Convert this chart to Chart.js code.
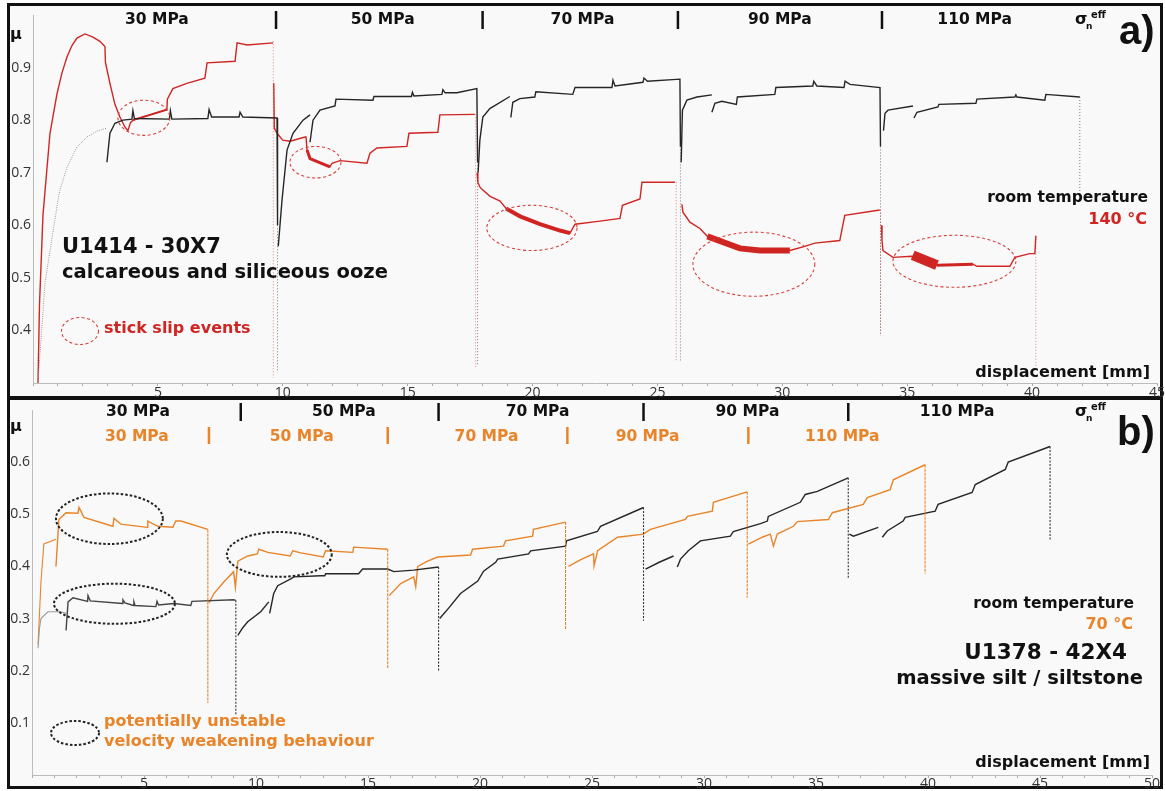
<!DOCTYPE html>
<html><head><meta charset="utf-8">
<script src="https://cdn.jsdelivr.net/npm/chart.js@4"></script>
<style>
body{margin:0;background:#fff;width:1165px;height:791px;position:relative;overflow:hidden}
.panel{position:absolute;left:7px;width:1156px;border:3px solid #111;background:#f9f9f9;box-sizing:border-box}
#pa{top:3px;height:396px}
#pb{top:397px;height:392px}
canvas{position:absolute;left:0}
</style></head>
<body>
<div class="panel" id="pa"></div>
<div class="panel" id="pb"></div>
<canvas id="ca" width="1165" height="398" style="top:0"></canvas>
<canvas id="cb" width="1165" height="393" style="top:398px"></canvas>
<script>
// ---------------- DATA: panel a) U1414-30X7 (displacement mm, friction μ) ----------------
const xTicksA = [5,10,15,20,25,30,35,40,45];
const yTicksA = [0.4,0.5,0.6,0.7,0.8,0.9];
// 140 °C (red)
const red30 = [[0.2,0.3],[0.26,0.45],[0.4,0.62],[0.68,0.775],[0.96,0.85],[1.16,0.89],[1.36,0.92],[1.56,0.942],[1.76,0.956],[2.08,0.964],[2.4,0.958],[2.68,0.95],[2.88,0.94],[2.9,0.91],[3.08,0.87],[3.28,0.83],[3.48,0.806],[3.68,0.787],[3.8,0.78],[3.9,0.795],[4.0,0.80],[4.68,0.81],[5.36,0.82],[5.38,0.84],[5.6,0.86],[6.16,0.87],[6.88,0.88],[6.97,0.909],[8.09,0.912],[8.17,0.947],[8.57,0.943],[9.61,0.947]];
const red50 = [[9.64,0.87],[9.66,0.785],[9.77,0.775],[10.0,0.762],[10.29,0.76],[10.89,0.768],[10.93,0.768],[10.97,0.743],[11.09,0.727],[11.89,0.711],[11.97,0.718],[12.29,0.723],[13.37,0.718],[13.49,0.737],[13.77,0.747],[14.97,0.75],[15.05,0.775],[16.21,0.777],[16.29,0.81],[17.69,0.811]];
const red70 = [[17.78,0.70],[17.81,0.682],[17.9,0.672],[18.01,0.667],[18.3,0.655],[18.7,0.646],[18.94,0.632],[19.5,0.617],[20.3,0.602],[21.1,0.59],[21.5,0.585],[21.7,0.602],[22.7,0.608],[23.5,0.613],[23.6,0.638],[24.3,0.65],[24.38,0.682],[25.7,0.682]];
const red90 = [[25.98,0.64],[26.02,0.625],[26.3,0.606],[26.7,0.594],[27.0,0.579],[28.3,0.556],[29.1,0.552],[30.3,0.552],[30.9,0.56],[31.3,0.566],[32.3,0.571],[32.5,0.619],[33.9,0.629]];
const red110 = [[33.97,0.60],[33.99,0.571],[34.03,0.552],[34.43,0.539],[35.19,0.541],[36.19,0.524],[37.63,0.526],[37.79,0.522],[39.11,0.522],[39.31,0.539],[39.91,0.546],[40.11,0.546],[40.15,0.58]];
const redStick = [
  [[4.0,0.80],[4.68,0.81],[5.36,0.82]],
  [[10.97,0.743],[11.09,0.727],[11.89,0.711]],
  [[18.94,0.632],[19.5,0.617],[20.3,0.602],[21.1,0.59],[21.5,0.585]],
  [[27.0,0.579],[28.3,0.556],[29.1,0.552],[30.3,0.552]],
  [[35.22,0.543],[36.19,0.524]],
  [[36.19,0.524],[37.63,0.526]]
];
const redStickW = [2,3,4,6,10,3];
// room temperature (black)
const gray30 = [[0.2,0.3],[0.48,0.49],[1.0,0.648],[1.08,0.667],[1.36,0.71],[1.76,0.749],[2.16,0.768],[2.56,0.779],[2.96,0.785]];
const black30 = [[2.96,0.72],[3.08,0.775],[3.28,0.794],[3.6,0.80],[3.96,0.802],[4.0,0.818],[4.06,0.803],[5.46,0.802],[5.5,0.818],[5.56,0.802],[7.0,0.803],[7.05,0.82],[7.15,0.806],[8.25,0.806],[8.29,0.815],[8.4,0.806],[9.77,0.804],[9.79,0.6]];
const black50a = [[9.82,0.56],[9.97,0.648],[10.17,0.743],[10.41,0.775],[10.81,0.80],[11.09,0.81]];
const black50b = [[11.09,0.758],[11.21,0.80],[11.49,0.819],[12.09,0.827],[12.13,0.84],[13.61,0.838],[13.65,0.845],[15.15,0.845],[15.19,0.853],[15.25,0.846],[16.37,0.849],[16.41,0.858],[16.5,0.852],[16.97,0.852],[17.77,0.86],[17.8,0.72]];
const black70a = [[17.82,0.70],[17.89,0.762],[18.01,0.806],[18.29,0.822],[19.09,0.845]];
const black70b = [[19.13,0.805],[19.21,0.834],[19.49,0.841],[20.09,0.844],[20.13,0.854],[21.61,0.849],[21.7,0.862],[23.18,0.862],[23.22,0.876],[23.3,0.865],[24.42,0.872],[24.46,0.88],[24.6,0.874],[25.9,0.878],[25.92,0.75]];
const black90a = [[25.95,0.72],[26.0,0.819],[26.18,0.838],[26.58,0.844],[27.18,0.848]];
const black90b = [[27.18,0.815],[27.3,0.832],[27.58,0.836],[28.16,0.83],[28.2,0.844],[29.7,0.849],[29.74,0.862],[31.22,0.865],[31.26,0.874],[31.38,0.865],[32.47,0.862],[32.51,0.874],[32.71,0.868],[33.91,0.862],[33.93,0.75]];
const black110a = [[34.05,0.78],[34.11,0.813],[34.23,0.819],[35.23,0.827]];
const black110b = [[35.27,0.804],[35.39,0.815],[36.23,0.825],[36.27,0.83],[37.75,0.832],[37.79,0.84],[39.31,0.844],[39.35,0.848],[39.39,0.844],[40.51,0.838],[40.55,0.849],[41.91,0.844]];
// unload spikes [x, top, bottom]
const spikeRedA = [[9.62,0.95,0.31],[17.72,0.811,0.33],[25.75,0.682,0.34],[33.93,0.629,0.394],[40.15,0.58,0.33]];
const spikeBlackA = [[9.79,0.60,0.32],[17.8,0.72,0.333],[25.92,0.75,0.34],[33.93,0.75,0.39],[41.91,0.844,0.66]];
// normal stress steps
const stepsA = [9.73,18.0,25.82,33.99];
const stressLabelsA = ['30 MPa','50 MPa','70 MPa','90 MPa','110 MPa'];
const stressPosA = [4.96,14.0,22.0,29.9,37.7];
const stickBoxesA = [[3.40,5.48,0.838,0.771],[10.29,12.33,0.750,0.690],[18.17,21.78,0.638,0.552],[26.42,31.3,0.587,0.465],[34.43,39.35,0.581,0.482]];

// ---------------- DATA: panel b) U1378-42X4 ----------------
const xTicksB = [5,10,15,20,25,30,35,40,45,50];
const yTicksB = [0.1,0.2,0.3,0.4,0.5,0.6];
// room temperature (black)
const grayB30 = [[0.27,0.243],[0.33,0.28],[0.4,0.30],[0.71,0.313],[1.29,0.313],[1.52,0.31]];
const blkB30 = [[1.52,0.277],[1.61,0.332],[1.83,0.34],[2.48,0.333],[2.5,0.344],[2.6,0.334],[4.04,0.329],[4.06,0.336],[4.15,0.33],[4.53,0.325],[4.55,0.332],[4.6,0.325],[5.53,0.323],[5.58,0.333],[5.65,0.326],[6.33,0.329],[7.09,0.325],[7.14,0.333],[9.0,0.336],[9.1,0.335]];
const blkB50a = [[9.19,0.268],[9.4,0.282],[9.63,0.294],[10.21,0.313],[10.57,0.332]];
const blkB50b = [[10.61,0.31],[10.79,0.348],[10.97,0.363],[11.55,0.376],[11.69,0.38],[12.89,0.382],[13.07,0.382],[13.11,0.386],[14.58,0.386],[14.76,0.395],[15.88,0.395],[16.15,0.39],[17.04,0.393],[18.15,0.399]];
const blkB70 = [[18.2,0.3],[18.6,0.32],[19.13,0.348],[19.9,0.372],[20.16,0.391],[20.7,0.408],[20.79,0.414],[22.17,0.424],[22.26,0.43],[23.82,0.439],[23.86,0.449],[25.24,0.467],[25.38,0.477],[27.3,0.513]];
const blkB90a = [[27.39,0.395],[28.0,0.408],[28.64,0.42]];
const blkB90b = [[28.81,0.399],[28.95,0.414],[29.3,0.43],[29.84,0.449],[31.18,0.458],[31.31,0.467],[32.52,0.482],[32.83,0.487],[32.87,0.496],[34.3,0.523],[34.52,0.538],[35.06,0.544],[36.44,0.57]];
const blkB110a = [[36.49,0.462],[36.67,0.458],[37.78,0.475]];
const blkB110b = [[37.96,0.456],[38.18,0.468],[38.89,0.487],[38.98,0.494],[40.32,0.506],[40.45,0.519],[41.97,0.542],[42.11,0.557],[43.45,0.586],[43.58,0.6],[45.45,0.63]];
// 70 °C (orange)
const orgB30a = [[0.27,0.25],[0.4,0.37],[0.53,0.443],[1.07,0.452]];
const orgB30b = [[1.07,0.40],[1.2,0.49],[1.52,0.503],[2.05,0.502],[2.1,0.513],[2.32,0.494],[3.61,0.477],[3.66,0.492],[3.97,0.481],[5.15,0.475],[5.17,0.487],[5.62,0.477],[6.29,0.475],[6.42,0.487],[6.65,0.487],[7.85,0.471]];
const orgB50 = [[7.9,0.33],[8.12,0.348],[8.6,0.372],[9.0,0.39],[9.08,0.36],[9.19,0.41],[9.63,0.42],[10.06,0.424],[10.12,0.433],[10.53,0.427],[11.53,0.42],[11.64,0.43],[12.0,0.426],[13.0,0.418],[13.11,0.43],[14.32,0.427],[14.36,0.437],[15.88,0.433]];
const orgB70 = [[15.95,0.344],[16.46,0.367],[17.04,0.38],[17.13,0.361],[17.22,0.4],[17.66,0.41],[18.11,0.418],[19.58,0.422],[19.67,0.433],[21.05,0.439],[21.14,0.449],[22.35,0.458],[22.39,0.471],[23.82,0.485]];
const orgB90 = [[23.95,0.40],[24.5,0.413],[25.07,0.424],[25.09,0.401],[25.25,0.43],[26.14,0.456],[27.3,0.462],[27.61,0.471],[29.17,0.49],[29.26,0.496],[30.37,0.506],[30.42,0.523],[31.93,0.543]];
const orgB110 = [[31.98,0.443],[32.6,0.456],[32.96,0.462],[33.1,0.439],[33.27,0.462],[33.99,0.477],[34.17,0.486],[35.55,0.49],[35.73,0.503],[37.11,0.519],[37.29,0.532],[38.31,0.547],[38.45,0.566],[39.87,0.595]];
const spikeBlkB = [[9.1,0.335,0.115],[18.15,0.399,0.2],[27.3,0.513,0.296],[36.44,0.57,0.376],[45.45,0.63,0.449]];
const spikeOrgB = [[7.85,0.471,0.138],[15.88,0.433,0.205],[23.82,0.485,0.28],[31.93,0.543,0.34],[39.87,0.595,0.386]];
const stepsBlkB = [9.32,18.15,27.3,36.44];
const stepsOrgB = [7.9,15.88,23.9,31.98];
const stressLabelsB = ['30 MPa','50 MPa','70 MPa','90 MPa','110 MPa'];
const stressPosBlkB = [4.73,13.92,22.57,31.94,41.3];
const stressPosOrgB = [4.68,12.04,20.29,27.48,36.17];
const vwBoxesB = [[1.07,5.84,0.54,0.443],[8.7,13.38,0.466,0.38],[0.98,6.38,0.367,0.29]];

// ---------------- helpers ----------------
const RED='#cf2523', ORG='#e8842a', BLK='#262626', GRY='#9a9a9a';
const BF="'DejaVu Sans', sans-serif";
function pts(a){return a.map(p=>({x:p[0],y:p[1]}));}
function line(a,color,w,dash){return {data:pts(a),borderColor:color,borderWidth:w||1.4,borderDash:dash||[],pointRadius:0,fill:false,tension:0};}
function spikes(list,color,w,dash){return list.map(s=>line([[s[0],s[1]],[s[0],s[2]]],color,w,dash));}

function text(ctx,t,x,y,size,color,align,family){
  ctx.font='bold '+size+'px '+(family||BF);
  ctx.fillStyle=color; ctx.textAlign=align||'left'; ctx.textBaseline='middle';
  ctx.fillText(t,x,y);
}
function ell(ctx,cx,cy,rx,ry,color,w,dash){
  ctx.save();ctx.beginPath();ctx.setLineDash(dash);ctx.lineWidth=w;ctx.strokeStyle=color;
  ctx.ellipse(cx,cy,rx,ry,0,0,Math.PI*2);ctx.stroke();ctx.restore();
}
function sigma(ctx,x,y){
  text(ctx,'σ',x,y,16,'#111');
  text(ctx,'n',x+11,y+7,9,'#111');
  text(ctx,'eff',x+16,y-5,10,'#111');
}
function boxEll(ctx,xs,ys,b,color,w,dash){
  const x1=xs.getPixelForValue(b[0]),x2=xs.getPixelForValue(b[1]),y1=ys.getPixelForValue(b[2]),y2=ys.getPixelForValue(b[3]);
  ell(ctx,(x1+x2)/2,(y1+y2)/2,Math.abs(x2-x1)/2,Math.abs(y2-y1)/2,color,w,dash);
}
function marker(ctx,x,y1,y2,color){ctx.save();ctx.strokeStyle=color;ctx.lineWidth=2.5;ctx.setLineDash([]);ctx.beginPath();ctx.moveTo(x,y1);ctx.lineTo(x,y2);ctx.stroke();ctx.restore();}

const drawA = (chart)=>{
  const ctx=chart.ctx,xs=chart.scales.x,ys=chart.scales.y;
  ctx.save();
  stickBoxesA.forEach(b=>boxEll(ctx,xs,ys,b,'#d9403c',1.1,[3,2.5]));
  stressLabelsA.forEach((t,i)=>text(ctx,t,xs.getPixelForValue(stressPosA[i]),20,15.5,'#111','center'));
  stepsA.forEach(v=>marker(ctx,xs.getPixelForValue(v),11,29,'#111'));
  sigma(ctx,1075,20);
  text(ctx,'a)',1119,33,40,'#111','left',"'Liberation Sans', Arial, sans-serif");
  text(ctx,'μ',16,35,16,'#111','center');
  text(ctx,'U1414 - 30X7',62,248,21,'#111');
  text(ctx,'calcareous and siliceous ooze',62,273,19.5,'#111');
  ell(ctx,80,331,18.5,13.5,'#d9403c',1.1,[3,2.5]);
  text(ctx,'stick slip events',104,329,16,RED);
  text(ctx,'room temperature',1148,198,15.5,'#111','right');
  text(ctx,'140 °C',1147,220,16,RED,'right');
  text(ctx,'displacement [mm]',1150,373,16,'#111','right');
  ctx.restore();
};
const drawB = (chart)=>{
  const ctx=chart.ctx,xs=chart.scales.x,ys=chart.scales.y;
  ctx.save();
  vwBoxesB.forEach(b=>boxEll(ctx,xs,ys,b,'#222',2,[2.5,2]));
  stressLabelsB.forEach((t,i)=>text(ctx,t,xs.getPixelForValue(stressPosBlkB[i]),14,15.5,'#111','center'));
  stressLabelsB.forEach((t,i)=>text(ctx,t,xs.getPixelForValue(stressPosOrgB[i]),39,15.5,ORG,'center'));
  stepsBlkB.forEach(v=>marker(ctx,xs.getPixelForValue(v),5,23,'#111'));
  stepsOrgB.forEach(v=>marker(ctx,xs.getPixelForValue(v),29,46,ORG));
  sigma(ctx,1075,14);
  text(ctx,'b)',1117,36,40,'#111','left',"'Liberation Sans', Arial, sans-serif");
  text(ctx,'μ',16,29,16,'#111','center');
  ell(ctx,75,335,24,12,'#222',2,[2.5,2]);
  text(ctx,'potentially unstable',104,324,16,ORG);
  text(ctx,'velocity weakening behaviour',104,344,16,ORG);
  text(ctx,'room temperature',1134,206,15.5,'#111','right');
  text(ctx,'70 °C',1133,227,16,ORG,'right');
  text(ctx,'U1378 - 42X4',1127,255,21.5,'#111','right');
  text(ctx,'massive silt / siltstone',1143,281,19.5,'#111','right');
  text(ctx,'displacement [mm]',1150,365,16,'#111','right');
  ctx.restore();
};

function makeChart(id,datasets,c){
  return new Chart(document.getElementById(id),{
    type:'line',
    data:{datasets},
    options:{
      responsive:false,animation:false,events:[],
      layout:{padding:{left:0,right:c.padR,top:c.padT,bottom:0}},
      plugins:{legend:{display:false},tooltip:{enabled:false}},
      scales:{
        x:{type:'linear',min:0,max:c.xmax,
          afterFit(s){s.height=c.xh;},
          afterBuildTicks(s){const t=[];for(let v=0;v<=c.xmax;v++)t.push({value:v});s.ticks=t;},
          ticks:{autoSkip:false,maxRotation:0,padding:c.xpad,color:'#333',font:{family:"'Open Sans', sans-serif",size:14},
            callback:v=>c.xt.includes(v)?String(v):''},
          grid:{drawOnChartArea:false,drawTicks:true,tickLength:3,color:'#aaa'},
          border:{color:'#bbb',width:1}},
        y:{type:'linear',min:c.ymin,max:c.ymax,
          afterFit(s){s.width=c.yw;},
          afterBuildTicks(s){s.ticks=c.yt.map(v=>({value:v}));},
          ticks:{autoSkip:false,padding:2,color:'#333',font:{family:"'Open Sans', sans-serif",size:14},
            callback:v=>v.toFixed(1)},
          grid:{drawOnChartArea:false,drawTicks:false},
          border:{color:'#bbb',width:1}}
      }
    },
    plugins:[{id:'notes'+id,afterDatasetsDraw:c.draw}]
  });
}

const dsA = [
  ...spikes(spikeRedA,'rgba(207,37,35,0.55)',1,[1,2]),
  ...spikes(spikeBlackA,'rgba(40,40,40,0.6)',1,[1,2]),
  line(gray30,GRY,1,[1,1.2]),
  line(black30,BLK),line(black50a,BLK),line(black50b,BLK),line(black70a,BLK),line(black70b,BLK),
  line(black90a,BLK),line(black90b,BLK),line(black110a,BLK),line(black110b,BLK),
  line(red30,RED),line(red50,RED),line(red70,RED),line(red90,RED),line(red110,RED),
  ...redStick.map((a,i)=>line(a,RED,redStickW[i]))
];
const dsB = [
  ...spikes(spikeOrgB,ORG,1.1,[3,1]),
  ...spikes(spikeBlkB,'#333',1.1,[2,1.5]),
  line(grayB30,GRY,1.1),line(blkB30,'#444'),line(blkB50a,BLK),line(blkB50b,BLK),line(blkB70,BLK),
  line(blkB90a,BLK),line(blkB90b,BLK),line(blkB110a,BLK),line(blkB110b,BLK),
  line(orgB30a,ORG,1.1),line(orgB30b,ORG),line(orgB50,ORG),line(orgB70,ORG),line(orgB90,ORG),line(orgB110,ORG)
];

makeChart('ca',dsA,{padR:8,padT:15,xh:15,yw:33,xmax:45,ymin:0.3,ymax:1.0,xt:xTicksA,yt:yTicksA,xpad:-1,draw:drawA});
makeChart('cb',dsB,{padR:13,padT:12,xh:16,yw:32,xmax:50,ymin:0,ymax:0.7,xt:xTicksB,yt:yTicksB,xpad:-2,draw:drawB});
</script>
</body></html>
